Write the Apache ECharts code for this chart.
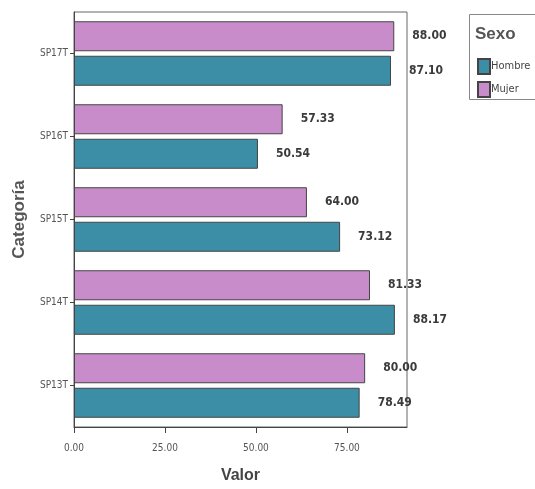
<!DOCTYPE html>
<html>
<head>
<meta charset="utf-8">
<script src="https://cdn.jsdelivr.net/npm/echarts@6/dist/echarts.min.js"></script>
<style>html,body{margin:0;padding:0;background:#fff}#c{width:535px;height:489px}</style>
</head>
<body>
<div id="c"></div>
<script>
var categories = ['SP17T', 'SP16T', 'SP15T', 'SP14T', 'SP13T'];
var seriesNames = ['Hombre', 'Mujer'];
var hombre = [87.10, 50.54, 73.12, 88.17, 78.49];
var mujer = [88.00, 57.33, 64.00, 81.33, 80.00];
var xTicks = [0, 25, 50, 75];

var narrow = '"Liberation Sans Narrow", "DejaVu Sans Condensed", "Liberation Sans", Arial, sans-serif';
var chart = echarts.init(document.getElementById('c'));
function labelCfg() {
  return {
    show: true, position: 'right', distance: 18,
    formatter: function (p) { return p.value.toFixed(2); },
    fontFamily: narrow, fontWeight: 'bold', fontSize: 12, color: '#3a3a3a'
  };
}
chart.setOption({
  animation: false,
  grid: { left: 74, top: 12, right: 128, bottom: 62, show: true, borderColor: '#666', borderWidth: 1 },
  legend: {
    orient: 'vertical', left: 472, top: 53, itemWidth: 12, itemHeight: 15, itemGap: 6,
    icon: 'rect', data: seriesNames,
    textStyle: { fontFamily: narrow, fontSize: 11, color: '#444', padding: [0, 0, 0, -4] }
  },
  graphic: [
    { type: 'rect', left: 467, top: 12, shape: { width: 80, height: 85 }, style: { fill: 'none', stroke: '#888', lineWidth: 1 } },
    { type: 'text', left: 475, top: 26, style: { text: 'Sexo', font: 'bold 17px "Liberation Sans", Arial, sans-serif', fill: '#555' } }
  ],
  xAxis: {
    type: 'value', min: 0, max: 91.5,
    name: 'Valor', nameLocation: 'middle', nameGap: 41,
    nameTextStyle: { fontFamily: '"Liberation Sans", Arial, sans-serif', fontWeight: 'bold', fontSize: 16, color: '#444' },
    axisLine: { show: true, lineStyle: { color: '#444' } },
    axisTick: { show: true, length: 6, customValues: xTicks, lineStyle: { color: '#444' } },
    axisLabel: { customValues: xTicks, formatter: function (v) { return v.toFixed(2); }, fontFamily: narrow, fontSize: 10, color: '#555', margin: 16 },
    splitLine: { show: false }
  },
  yAxis: {
    type: 'category', data: categories, inverse: true,
    name: 'Categoría', nameLocation: 'middle', nameGap: 46, nameRotate: 90,
    nameTextStyle: { fontFamily: '"Liberation Sans", Arial, sans-serif', fontWeight: 'bold', fontSize: 17, color: '#555' },
    axisLine: { show: true, lineStyle: { color: '#444' } },
    axisTick: { show: true, alignWithLabel: true, length: 4, lineStyle: { color: '#444' } },
    axisLabel: { fontFamily: narrow, fontSize: 10, color: '#555', margin: 6 }
  },
  series: [
    { name: 'Mujer', type: 'bar', data: mujer, barWidth: 30, barGap: '15%',
      itemStyle: { color: '#c98ccb', borderColor: '#444', borderWidth: 1 }, label: labelCfg() },
    { name: 'Hombre', type: 'bar', data: hombre, barWidth: 30, barGap: '15%',
      itemStyle: { color: '#3b8ea6', borderColor: '#444', borderWidth: 1 }, label: labelCfg() }
  ]
});
</script>
</body>
</html>
